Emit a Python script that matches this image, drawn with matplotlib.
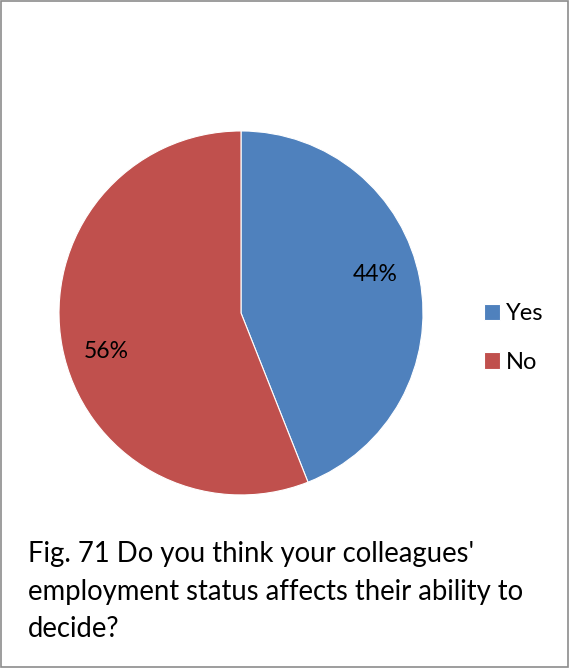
import numpy as np
import matplotlib.pyplot as plt
from matplotlib.patches import Rectangle

# data
labels = ['Yes', 'No']
shares = [44, 56]
colors = ['#4F81BD', '#C0504D']
caption = ("Fig. 71 Do you think your colleagues'\n"
           "employment status affects their ability to\n"
           "decide?")

plt.rcParams['font.family'] = ['Lato', 'DejaVu Sans']

fig = plt.figure(figsize=(5.69, 6.68), dpi=100)

# light gray frame around the whole chart
fig.patches.append(Rectangle((0.002, 0.002), 0.996, 0.996, transform=fig.transFigure,
                             fill=False, edgecolor='#8c8c8c', linewidth=1.2))

ax = fig.add_axes([0.1037, 0.259, 0.6397, 0.545])
wedges, texts, autotexts = ax.pie(shares, colors=colors, startangle=90, counterclock=False,
                                  autopct='%1.0f%%', pctdistance=0.77,
                                  wedgeprops=dict(edgecolor='white', linewidth=0.8),
                                  textprops=dict(fontsize=16.5, color='black'))
# excel puts the labels a few degrees off the slice middle
rot = np.deg2rad(5.3)
for t in autotexts:
    x, y = t.get_position()
    t.set_position((x * np.cos(rot) - y * np.sin(rot), x * np.sin(rot) + y * np.cos(rot)))
ax.set_xlim(-1, 1)
ax.set_ylim(-1, 1)
ax.set_aspect('equal')

leg = fig.legend(wedges, labels, loc='center left', bbox_to_anchor=(0.813, 0.494),
                 frameon=False, fontsize=17, handlelength=0.7, handleheight=0.7,
                 handletextpad=0.25, labelspacing=1.15)

fig.text(0.049, 0.19, caption, fontsize=19.8, va='top', ha='left', linespacing=1.55)

plt.savefig('out.png', dpi=100)
